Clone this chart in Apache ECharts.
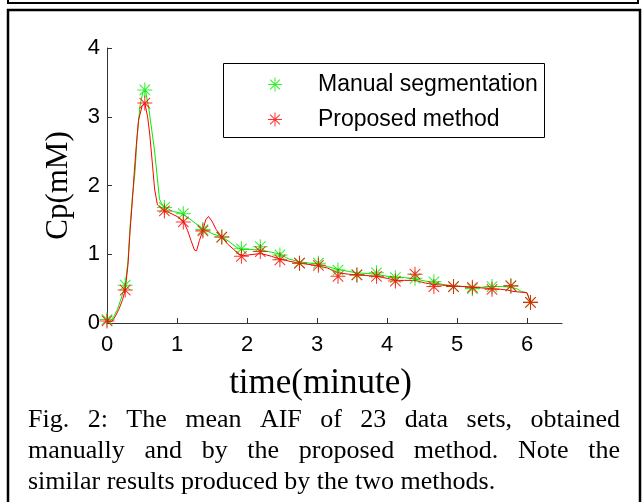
<!DOCTYPE html>
<html>
<head>
<meta charset="utf-8">
<script src="https://cdn.jsdelivr.net/npm/echarts@6/dist/echarts.min.js"></script>
<style>
html,body{margin:0;padding:0;background:#fff;}
#main{width:642px;height:502px;}
</style>
</head>
<body>
<div id="main"></div>
<script>
// ---- data ----
var markerTimes = [0, 0.26, 0.54, 0.82, 1.09, 1.37, 1.64, 1.92, 2.19, 2.47, 2.75, 3.02, 3.3, 3.57, 3.85, 4.12, 4.4, 4.67, 4.95, 5.22, 5.5, 5.77, 6.05];
var manualMarkers = [0.05, 0.55, 3.39, 1.68, 1.59, 1.36, 1.25, 1.08, 1.11, 0.99, 0.87, 0.87, 0.77, 0.70, 0.73, 0.66, 0.65, 0.60, 0.53, 0.50, 0.53, 0.54, 0.30];
var proposedMarkers = [0.03, 0.48, 3.20, 1.63, 1.47, 1.34, 1.25, 0.97, 1.04, 0.92, 0.87, 0.84, 0.68, 0.70, 0.68, 0.61, 0.71, 0.53, 0.53, 0.52, 0.49, 0.54, 0.30];

var manualLineT = [0, 0.05, 0.1, 0.15, 0.2, 0.26, 0.3, 0.33, 0.36, 0.4, 0.43, 0.47, 0.51, 0.55, 0.6, 0.64, 0.68, 0.72, 0.75, 0.8, 0.85, 0.95, 1.05, 1.1, 1.2, 1.3, 1.37, 1.5, 1.65, 1.75, 1.85, 1.92, 2.05, 2.2, 2.35, 2.47, 2.6, 2.75, 2.9, 3.02, 3.15, 3.3, 3.45, 3.57, 3.7, 3.85, 4.0, 4.12, 4.25, 4.4, 4.55, 4.67, 4.8, 4.95, 5.1, 5.22, 5.35, 5.5, 5.65, 5.77, 5.85, 5.92, 6.0, 6.05];
var manualLineV = [0.03, 0.03, 0.1, 0.2, 0.35, 0.55, 0.9, 1.4, 1.8, 2.2, 2.7, 3.15, 3.35, 3.38, 3.1, 2.8, 2.5, 2.1, 1.8, 1.7, 1.67, 1.62, 1.6, 1.57, 1.5, 1.42, 1.37, 1.3, 1.25, 1.18, 1.1, 1.07, 1.07, 1.06, 1.03, 1.0, 0.93, 0.89, 0.87, 0.86, 0.82, 0.78, 0.75, 0.73, 0.72, 0.71, 0.68, 0.67, 0.66, 0.64, 0.61, 0.59, 0.56, 0.54, 0.53, 0.52, 0.52, 0.53, 0.53, 0.52, 0.5, 0.46, 0.44, 0.3];

var proposedLineT = [0, 0.07, 0.12, 0.17, 0.22, 0.26, 0.3, 0.33, 0.36, 0.39, 0.42, 0.45, 0.5, 0.54, 0.58, 0.61, 0.65, 0.68, 0.72, 0.78, 0.82, 0.9, 1.0, 1.09, 1.15, 1.2, 1.25, 1.28, 1.32, 1.37, 1.41, 1.45, 1.5, 1.56, 1.64, 1.72, 1.8, 1.88, 1.95, 2.1, 2.2, 2.35, 2.47, 2.6, 2.75, 2.9, 3.02, 3.15, 3.3, 3.45, 3.57, 3.7, 3.85, 4.0, 4.12, 4.25, 4.4, 4.55, 4.67, 4.8, 4.95, 5.1, 5.22, 5.35, 5.5, 5.62, 5.72, 5.8, 5.9, 6.0, 6.05];
var proposedLineV = [0.02, 0.02, 0.1, 0.2, 0.33, 0.48, 0.85, 1.35, 1.75, 2.2, 2.6, 2.95, 3.15, 3.2, 3.0, 2.75, 2.3, 1.95, 1.72, 1.66, 1.63, 1.6, 1.55, 1.48, 1.35, 1.2, 1.06, 1.05, 1.2, 1.35, 1.5, 1.55, 1.48, 1.36, 1.25, 1.15, 1.08, 1.0, 0.98, 1.0, 1.01, 0.97, 0.93, 0.9, 0.87, 0.85, 0.83, 0.8, 0.73, 0.71, 0.7, 0.69, 0.68, 0.65, 0.62, 0.62, 0.62, 0.58, 0.56, 0.55, 0.54, 0.53, 0.52, 0.51, 0.5, 0.49, 0.48, 0.46, 0.45, 0.44, 0.3];

var xTicks = [0, 1, 2, 3, 4, 5, 6];
var seriesNames = ['Manual segmentation', 'Proposed method'];
var xName = 'time(minute)';
var yName = 'Cp(mM)';
var captionLines = [
  'Fig. 2: The mean AIF of 23 data sets, obtained',
  'manually and by the proposed method. Note the',
  'similar results produced by the two methods.'
];

// ---- helpers ----
function pairs(t, v) { return t.map(function (x, i) { return [x, v[i]]; }); }
var STAR = 'path://M9.3,0h1.4v20h-1.4zM0,9.3h20v1.4h-20zM2.5,3.5L3.5,2.5L17.5,16.5L16.5,17.5zM16.5,2.5L17.5,3.5L3.5,17.5L2.5,16.5z';
var GREEN = '#00ee00', RED = '#ff0000';

var chart = echarts.init(document.getElementById('main'), null, {renderer: 'canvas'});

// caption (justified)
var capFont = '26px "Liberation Serif"';
var capLeft = 28, capRight = 620, capTop = [407, 438, 469];
var cv = document.createElement('canvas').getContext('2d');
cv.font = capFont;
var graphics = [];
captionLines.forEach(function (line, li) {
  var words = line.split(' ');
  if (li < captionLines.length - 1) {
    var total = 0;
    words.forEach(function (w) { total += cv.measureText(w).width; });
    var gap = (capRight - capLeft - total) / (words.length - 1);
    var x = capLeft;
    words.forEach(function (w) {
      graphics.push({type: 'text', x: x, y: capTop[li], style: {text: w, font: capFont, fill: '#000', textVerticalAlign: 'top'}});
      x += cv.measureText(w).width + gap;
    });
  } else {
    graphics.push({type: 'text', x: capLeft, y: capTop[li], style: {text: line, font: capFont, fill: '#000', textVerticalAlign: 'top'}});
  }
});
// frames
graphics.push({type: 'rect', shape: {x: 8, y: -10, width: 630, height: 13}, style: {fill: null, stroke: '#000', lineWidth: 2}});
graphics.push({type: 'rect', shape: {x: 8, y: 10, width: 632, height: 520}, style: {fill: null, stroke: '#000', lineWidth: 2.5}});
// legend box
graphics.push({type: 'rect', shape: {x: 223.5, y: 63.5, width: 321, height: 74}, style: {fill: '#fff', stroke: '#000', lineWidth: 1}, z: 5});

var option = {
  backgroundColor: '#fff',
  animation: false,
  grid: {left: 107, right: 80, top: 48, bottom: 179, containLabel: false, outerBoundsMode: 'none'},
  xAxis: {
    type: 'value', min: 0, max: 6.5, interval: 1,
    name: xName, nameLocation: 'middle', nameGap: 43,
    nameTextStyle: {fontFamily: 'Liberation Serif', fontSize: 35, color: '#000', padding: [0, 28, 0, 0]},
    axisLine: {lineStyle: {color: '#333', width: 1}},
    axisTick: {inside: true, length: 5, customValues: xTicks, lineStyle: {color: '#333'}},
    axisLabel: {customValues: xTicks, fontFamily: 'Liberation Sans', fontSize: 22, color: '#000', margin: 11},
    splitLine: {show: false}
  },
  yAxis: {
    type: 'value', min: 0, max: 4, interval: 1,
    name: yName, nameLocation: 'middle', nameGap: 33,
    nameTextStyle: {fontFamily: 'Liberation Serif', fontSize: 31, color: '#000'},
    axisLine: {show: true, lineStyle: {color: '#333', width: 1}},
    axisTick: {show: true, inside: true, length: 5, lineStyle: {color: '#333'}},
    axisLabel: {fontFamily: 'Liberation Sans', fontSize: 22, color: '#000', margin: 7},
    splitLine: {show: false}
  },
  legend: {
    data: seriesNames,
    orient: 'vertical', left: 268, top: 73, padding: 0, itemGap: 12,
    itemWidth: 14, itemHeight: 14, z: 10,
    textStyle: {fontFamily: 'Liberation Sans', fontSize: 23, color: '#000', padding: [0, 0, 0, 31]}
  },
  graphic: graphics,
  series: [
    {type: 'line', name: 'manualLine', data: pairs(manualLineT, manualLineV), showSymbol: false, symbol: 'none', lineStyle: {color: GREEN, width: 1}, itemStyle: {color: GREEN}, z: 2},
    {type: 'line', name: 'proposedLine', data: pairs(proposedLineT, proposedLineV), showSymbol: false, symbol: 'none', lineStyle: {color: RED, width: 1}, itemStyle: {color: RED}, z: 3},
    {type: 'scatter', name: seriesNames[0], data: pairs(markerTimes, manualMarkers), symbol: STAR, symbolSize: 15, itemStyle: {color: GREEN}, z: 4},
    {type: 'scatter', name: seriesNames[1], data: pairs(markerTimes, proposedMarkers), symbol: STAR, symbolSize: 15, itemStyle: {color: RED}, z: 5}
  ]
};
chart.setOption(option);
</script>
</body>
</html>
